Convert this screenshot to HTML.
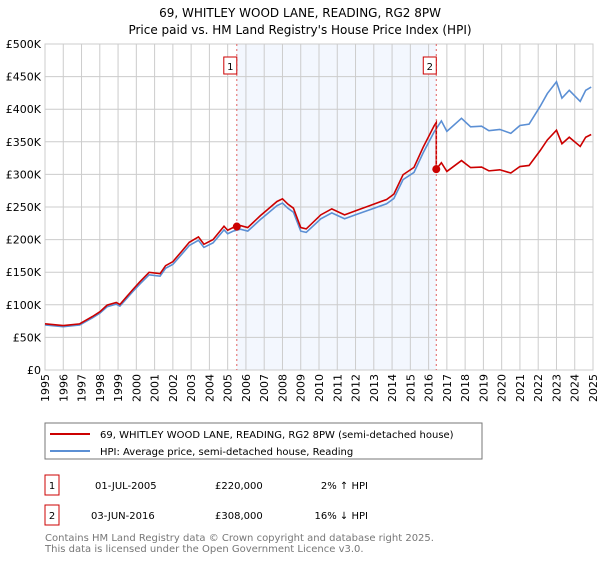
<!DOCTYPE html>
<html><head><meta charset="utf-8"><style>
body{margin:0;background:#fff;font-family:"DejaVu Sans","Liberation Sans",sans-serif;}
svg text{font-family:"DejaVu Sans","Liberation Sans",sans-serif;}
</style></head><body>
<svg id="chart" width="600" height="560" viewBox="0 0 600 560" xmlns="http://www.w3.org/2000/svg">
<text x="300" y="17" text-anchor="middle" font-size="12" fill="#000">69, WHITLEY WOOD LANE, READING, RG2 8PW</text>
<text x="300" y="34" text-anchor="middle" font-size="12" fill="#000">Price paid vs. HM Land Registry's House Price Index (HPI)</text>
<g id="grid"></g><g id="axes"></g><g id="series"></g>
<rect x="45" y="423" width="437" height="36" fill="#fff" stroke="#777"/>
<line x1="50" y1="434" x2="90" y2="434" stroke="#cc0000" stroke-width="2"/>
<text x="100" y="438" font-size="10">69, WHITLEY WOOD LANE, READING, RG2 8PW (semi-detached house)</text>
<line x1="50" y1="451" x2="90" y2="451" stroke="#5b8fd4" stroke-width="2"/>
<text x="100" y="455" font-size="10">HPI: Average price, semi-detached house, Reading</text>
<rect x="45" y="475" width="14" height="20" fill="#fff" stroke="#cc0000"/>
<text x="52" y="489" text-anchor="middle" font-size="10">1</text>
<text x="95" y="489" font-size="10">01-JUL-2005</text>
<text x="215" y="489" font-size="10">£220,000</text>
<text x="368" y="489" text-anchor="end" font-size="10">2% ↑ HPI</text>
<rect x="45" y="505" width="14" height="20" fill="#fff" stroke="#cc0000"/>
<text x="52" y="519" text-anchor="middle" font-size="10">2</text>
<text x="91" y="519" font-size="10">03-JUN-2016</text>
<text x="215" y="519" font-size="10">£308,000</text>
<text x="368" y="519" text-anchor="end" font-size="10">16% ↓ HPI</text>
<text x="45" y="541" font-size="10" fill="#777">Contains HM Land Registry data © Crown copyright and database right 2025.</text>
<text x="45" y="552" font-size="10" fill="#777">This data is licensed under the Open Government Licence v3.0.</text>
</svg>
<script>
const hpiYears=[1995.0,1996.0,1996.9,1997.6,1998.0,1998.4,1998.9,1999.1,1999.8,2000.2,2000.7,2001.3,2001.6,2002.0,2002.5,2002.9,2003.4,2003.7,2004.2,2004.8,2005.0,2005.3,2005.7,2006.1,2006.8,2007.1,2007.7,2008.0,2008.3,2008.6,2009.0,2009.3,2010.1,2010.7,2011.4,2012.1,2012.8,2013.7,2014.1,2014.6,2015.2,2015.7,2016.3,2016.7,2017.0,2017.8,2018.3,2018.9,2019.3,2019.9,2020.5,2021.0,2021.5,2022.1,2022.5,2023.0,2023.3,2023.7,2024.3,2024.6,2024.9];
const hpiValues=[69,66.5,69,80,87,97,101,98,120,132,146,144,156,162,178,191,199,188,195,215,209,213,216,213,231,238,252,256,248,242,213,211,232,241,232,239,246,255,263,292,303,333,365,382,366,386,373,374,367,369,363,375,377,404,424,442,417,429,412,429,434];
const saleYears=[2005.5,2016.42];
const salePrices=[220,308];
const yTicks=[0,50,100,150,200,250,300,350,400,450,500];
const yTickLabels=["£0","£50K","£100K","£150K","£200K","£250K","£300K","£350K","£400K","£450K","£500K"];
const xTicks=[1995,1996,1997,1998,1999,2000,2001,2002,2003,2004,2005,2006,2007,2008,2009,2010,2011,2012,2013,2014,2015,2016,2017,2018,2019,2020,2021,2022,2023,2024,2025];
const NS="http://www.w3.org/2000/svg";
const X0=45,X1=593,Y0=370,Y1=44;
const xs=y=>X0+(y-1995)/30*(X1-X0);
const ys=v=>Y0-v/500*(Y0-Y1);
function mk(tag,attrs,parent,txt){const e=document.createElementNS(NS,tag);for(const k in attrs)e.setAttribute(k,attrs[k]);if(txt!==undefined)e.textContent=txt;parent.appendChild(e);return e;}
const grid=document.getElementById('grid'),axes=document.getElementById('axes'),ser=document.getElementById('series');
const shade=mk('rect',{x:xs(saleYears[0]),y:Y1,width:xs(saleYears[1])-xs(saleYears[0]),height:Y0-Y1,fill:'#eef3fd',opacity:0.7},grid);


yTicks.forEach((t,i)=>{
 const l=mk('line',{x1:X0,x2:X1,y1:ys(t),y2:ys(t),stroke:'#ccc'},grid);
 
 
 const tx=mk('text',{x:X0-4,y:ys(t)+4,'text-anchor':'end','font-size':11},axes,yTickLabels[i]);
 
 
});
xTicks.forEach(t=>{
 const l=mk('line',{x1:xs(t),x2:xs(t),y1:Y1,y2:Y0,stroke:'#ccc'},grid);
 
 
 const px=xs(t)+4,py=Y0+4;
 const tx=mk('text',{x:px,y:py,'text-anchor':'end','font-size':11,transform:'rotate(-90 '+px+' '+py+')'},axes,String(t));
 
 
});
function hpiAt(y){for(let i=0;i<hpiYears.length-1;i++){if(y>=hpiYears[i]&&y<=hpiYears[i+1]){const f=(y-hpiYears[i])/(hpiYears[i+1]-hpiYears[i]);return hpiValues[i]+f*(hpiValues[i+1]-hpiValues[i]);}}return hpiValues[hpiValues.length-1];}
const hp=mk('polyline',{points:hpiYears.map((y,i)=>xs(y)+','+ys(hpiValues[i])).join(' '),fill:'none',stroke:'#5b8fd4','stroke-width':1.6},ser);


const r1=salePrices[0]/hpiAt(saleYears[0]),r2=salePrices[1]/hpiAt(saleYears[1]);
let pts=[];
hpiYears.forEach((y,i)=>{if(y<saleYears[1])pts.push(xs(y)+','+ys(hpiValues[i]*r1));});
pts.push(xs(saleYears[1])+','+ys(hpiAt(saleYears[1])*r1));
pts.push(xs(saleYears[1])+','+ys(salePrices[1]));
hpiYears.forEach((y,i)=>{if(y>saleYears[1])pts.push(xs(y)+','+ys(hpiValues[i]*r2));});
const pl=mk('polyline',{points:pts.join(' '),fill:'none',stroke:'#cc0000','stroke-width':1.6},ser);


saleYears.forEach((y,i)=>{
 const v=mk('line',{x1:xs(y),x2:xs(y),y1:Y1,y2:Y0,stroke:'#e06060','stroke-dasharray':'2,3'},ser);
 
 
 const b=mk('rect',{x:xs(y)-13,y:57,width:13,height:17,fill:'#fff',stroke:'#cc0000'},ser);
 
 
 mk('text',{x:xs(y)-6.5,y:70,'text-anchor':'middle','font-size':10},ser,String(i+1));
 const c=mk('circle',{cx:xs(y),cy:ys(salePrices[i]),r:4,fill:'#cc0000'},ser);
 
 
});
const ax=mk('rect',{x:X0,y:Y1,width:X1-X0,height:Y0-Y1,fill:'none',stroke:'#ccc'},axes);


</script>
</body></html>
